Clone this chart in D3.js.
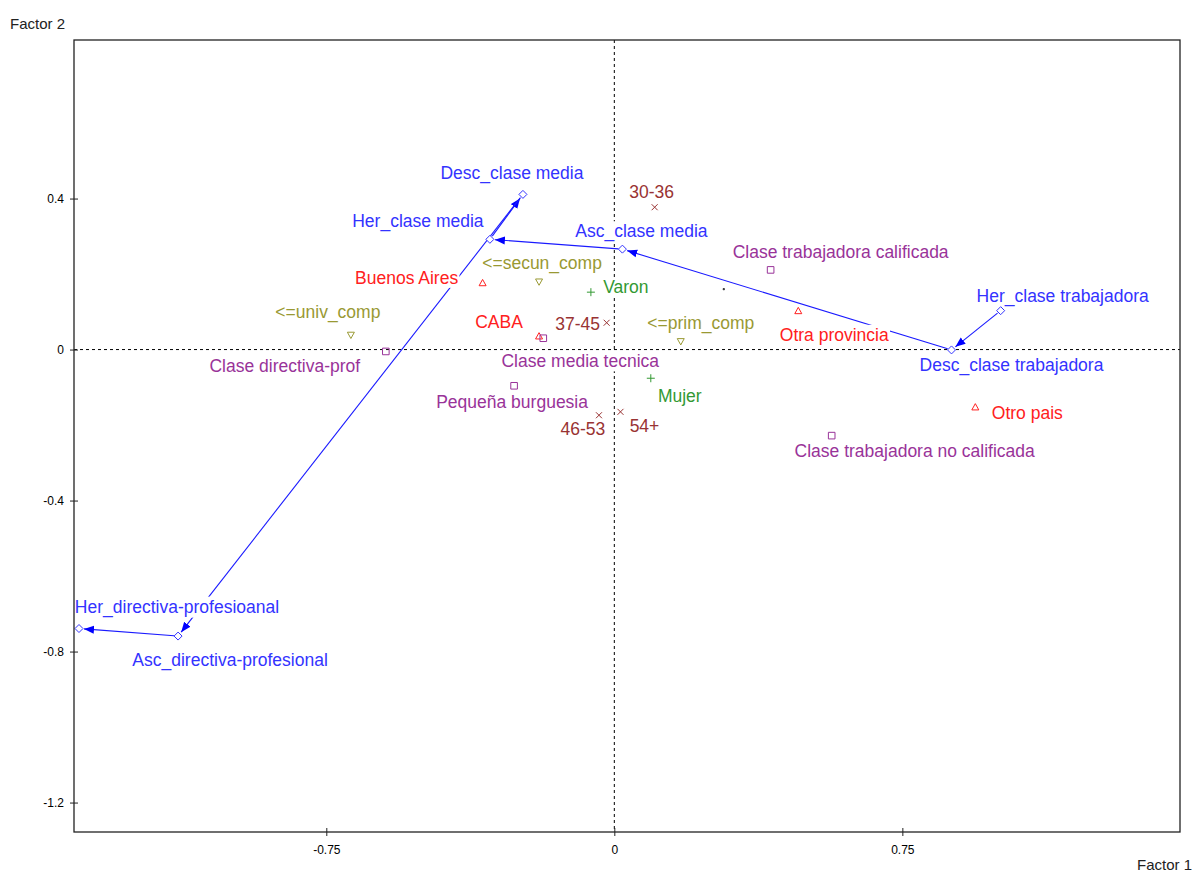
<!DOCTYPE html>
<html>
<head>
<meta charset="utf-8">
<script src="https://cdn.jsdelivr.net/npm/d3@7"></script>
<style>
  body { margin: 0; background: #fff; }
  text { font-family: "Liberation Sans", Arial, sans-serif; }
</style>
</head>
<body>
<script>

// Categories and their coordinates on the factorial plane
var labels = [
  "Desc_clase media", "Her_clase media", "Asc_clase media",
  "Her_clase trabajadora", "Desc_clase trabajadora",
  "Her_directiva-profesioanal", "Asc_directiva-profesional",
  "Buenos Aires", "CABA", "Otra provincia", "Otro pais",
  "Clase trabajadora calificada", "Clase trabajadora no calificada",
  "Clase directiva-prof", "Clase media tecnica", "Pequeña burguesia",
  "<=secun_comp", "<=univ_comp", "<=prim_comp",
  "Varon", "Mujer",
  "30-36", "37-45", "46-53", "54+",
  ""
]
var factor1 = [
  -0.238, -0.324, 0.021,
  1.006, 0.878,
  -1.394, -1.136,
  -0.343, -0.196, 0.479, 0.940,
  0.407, 0.566,
  -0.595, -0.185, -0.261,
  -0.196, -0.686, 0.173,
  -0.061, 0.095,
  0.105, -0.020, -0.040, 0.016,
  0.285
]
var factor2 = [
  0.411, 0.292, 0.266,
  0.103, -0.001,
  -0.739, -0.759,
  0.177, 0.036, 0.103, -0.152,
  0.211, -0.228,
  -0.005, 0.030, -0.096,
  0.179, 0.038, 0.021,
  0.152, -0.076,
  0.377, 0.071, -0.174, -0.165,
  0.160
]
var groups = [
  "tray", "tray", "tray",
  "tray", "tray",
  "tray", "tray",
  "region", "region", "region", "region",
  "clase", "clase",
  "clase", "clase", "clase",
  "educ", "educ", "educ",
  "sexo", "sexo",
  "edad", "edad", "edad", "edad",
  "otro"
]

// Order of the trajectory arrows
var trayectoria = [
  "Her_clase trabajadora", "Desc_clase trabajadora", "Asc_clase media",
  "Her_clase media", "Desc_clase media", "Asc_directiva-profesional",
  "Her_directiva-profesioanal"
]

var xTicks = [-0.75, 0, 0.75]
var yTicks = [0.4, 0, -0.4, -0.8, -1.2]

// Label placement (px from the point), same order as labels
var label_dx = [-11, -72, 19, 62, 60, 98, 52,
                -76, -40, 36, 52,
                70, 83, -101, 37, -2,
                3, -23, 20,
                35, 29,
                -3, -29, -16, 24,
                0]
var label_dy = [-22, -18, -18, -15, 15, -22, 24,
                -5, -14, 24, 6,
                -18, 15, 14, 23, 16,
                -19, -23, -19,
                -5, 18,
                -15, 1, 14, 14,
                0]

// Colours and marker shapes per group
var styles = {
  tray:   {color: "#3333ff", shape: "M0,-4L4,0L0,4L-4,0Z", fill: "#fff"},
  region: {color: "#ff2020", shape: "M0,-3.3L3.5,3L-3.5,3Z", fill: "none"},
  clase:  {color: "#993399", shape: "M-3.3,-3.3H3.3V3.3H-3.3Z", fill: "none"},
  educ:   {color: "#999933", shape: "M-3.5,-3H3.5L0,3.3Z", fill: "none"},
  sexo:   {color: "#339933", shape: "M-4,0H4M0,-4V4", fill: "none"},
  edad:   {color: "#993333", shape: "M-3,-3L3,3M3,-3L-3,3", fill: "none"},
  otro:   {color: "#333", shape: "M-0.6,-0.6H0.6V0.6H-0.6Z", fill: "#333"}
}

var W = 1198, H = 872
var pLeft = 74, pRight = 1180, pTop = 40, pBottom = 832

var x = d3.scaleLinear().domain([-1.407, 1.473]).range([pLeft, pRight])
var y = d3.scaleLinear().domain([-1.278, 0.82]).range([pBottom, pTop])

var pts = labels.map((l, i) => ({label: l, f1: factor1[i], f2: factor2[i], g: groups[i], dx: label_dx[i], dy: label_dy[i]}))

var svg = d3.select("body").append("svg")
            .attr("width", W)
            .attr("height", H)

// Arrow head
svg.append("defs").append("marker")
   .attr("id", "arrow")
   .attr("markerUnits", "userSpaceOnUse")
   .attr("markerWidth", 11)
   .attr("markerHeight", 9)
   .attr("refX", 10)
   .attr("refY", 4.5)
   .attr("orient", "auto")
   .append("path")
   .attr("d", "M0,0.5L10,4.5L0,8.5Z")
   .attr("fill", "#0000ff")

// Dashed origin lines
svg.append("line")
   .attr("x1", x(0)).attr("x2", x(0))
   .attr("y1", pTop).attr("y2", pBottom)
   .attr("stroke", "#000").attr("stroke-dasharray", "3,3")
svg.append("line")
   .attr("x1", pLeft).attr("x2", pRight)
   .attr("y1", y(0)).attr("y2", y(0))
   .attr("stroke", "#000").attr("stroke-dasharray", "3,3")

// Trajectory arrows
var byName = {}
pts.forEach(p => byName[p.label] = p)

for (var k = 0; k < trayectoria.length - 1; k++){
  var a = byName[trayectoria[k]], b = byName[trayectoria[k+1]]
  var x1 = x(a.f1), y1 = y(a.f2), x2 = x(b.f1), y2 = y(b.f2)
  var len = Math.hypot(x2 - x1, y2 - y1)
  var ux = (x2 - x1) / len, uy = (y2 - y1) / len

  svg.append("line")
     .attr("x1", x1 + ux*4).attr("y1", y1 + uy*4)
     .attr("x2", x2 - ux*5).attr("y2", y2 - uy*5)
     .attr("stroke", "#1a1aff")
     .attr("stroke-width", 1.1)
     .attr("marker-end", "url(#arrow)")
}

// Labels with white box behind
var lab = svg.append("g").selectAll("g")
             .data(pts.filter(p => p.label != ""))
             .join("g")

lab.append("text")
   .attr("x", d => x(d.f1) + d.dx)
   .attr("y", d => y(d.f2) + d.dy)
   .attr("dy", "0.35em")
   .attr("text-anchor", "middle")
   .attr("font-size", 17.5)
   .attr("fill", d => styles[d.g].color)
   .text(d => d.label)

lab.each(function(){
  var t = d3.select(this).select("text")
  var bb = t.node().getBBox()
  d3.select(this).insert("rect", "text")
    .attr("x", bb.x - 1).attr("y", bb.y)
    .attr("width", bb.width + 2).attr("height", bb.height)
    .attr("fill", "#fff")
})

// Markers
svg.append("g").selectAll("path")
   .data(pts)
   .join("path")
   .attr("transform", d => "translate(" + x(d.f1) + "," + y(d.f2) + ")")
   .attr("d", d => styles[d.g].shape)
   .attr("fill", d => styles[d.g].fill)
   .attr("stroke", d => styles[d.g].color)
   .attr("stroke-width", 1)

// Frame
svg.append("rect")
   .attr("x", pLeft).attr("y", pTop)
   .attr("width", pRight - pLeft).attr("height", pBottom - pTop)
   .attr("fill", "none")
   .attr("stroke", "#222")
   .attr("stroke-width", 1.3)

// Axes
var gx = svg.append("g")
            .attr("transform", "translate(0," + pBottom + ")")
            .call(d3.axisBottom(x).tickValues(xTicks).tickSize(4).tickPadding(9).tickFormat(d => String(d)))
var gy = svg.append("g")
            .attr("transform", "translate(" + pLeft + ",0)")
            .call(d3.axisLeft(y).tickValues(yTicks).tickSize(4).tickPadding(6).tickFormat(d => String(d)))

gx.select(".domain").remove()
gy.select(".domain").remove()
gx.selectAll(".tick line").attr("y1", -4).attr("stroke", "#222")
gy.selectAll(".tick line").attr("x1", 4).attr("stroke", "#222")
svg.selectAll(".tick text")
   .attr("font-family", "Liberation Sans, Arial, sans-serif")
   .attr("font-size", 12)
   .attr("fill", "#000")

// Axis titles
svg.append("text")
   .attr("x", 10).attr("y", 24).attr("dy", "0.35em")
   .attr("font-size", 15).attr("fill", "#222")
   .text("Factor 2")
svg.append("text")
   .attr("x", 1192).attr("y", 865).attr("dy", "0.35em")
   .attr("text-anchor", "end")
   .attr("font-size", 15).attr("fill", "#222")
   .text("Factor 1")

</script>
</body>
</html>
